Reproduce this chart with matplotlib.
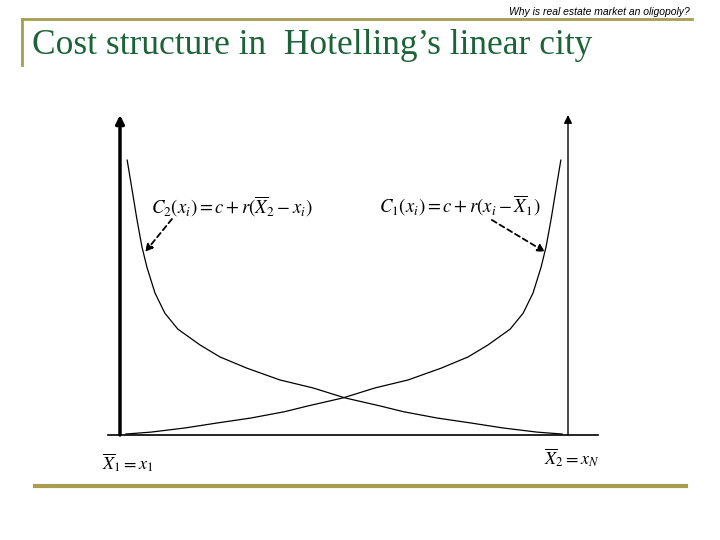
import matplotlib
matplotlib.use('Agg')
import matplotlib.pyplot as plt
from matplotlib.lines import Line2D

plt.rcParams['mathtext.fontset'] = 'stix'

# curve C2 (falls from the left axis), x as share of the city, y as cost height
c2_x = [0.016, 0.027, 0.038, 0.049, 0.060, 0.078, 0.100, 0.129, 0.179,
        0.223, 0.283, 0.357, 0.431, 0.502, 0.580, 0.632, 0.708, 0.781,
        0.855, 0.931, 0.987]
c2_y = [0.859, 0.766, 0.672, 0.588, 0.525, 0.444, 0.381, 0.331, 0.281,
        0.244, 0.209, 0.172, 0.147, 0.116, 0.091, 0.073, 0.053, 0.038,
        0.022, 0.009, 0.003]
# curve C1 (rises to the right axis), mirror image of C2
c1_x = [1 - v for v in c2_x]
c1_y = list(c2_y)

title = 'Cost structure in  Hotelling\u2019s linear city'
subtitle = 'Why is real estate market an oligopoly?'
label_c2 = r'$C_2(x_i) = c + r(\overline{X}_2 - x_i)$'
label_c1 = r'$C_1(x_i) = c + r(x_i - \overline{X}_1)$'
label_left = r'$\overline{X}_1 = x_1$'
label_right = r'$\overline{X}_2 = x_N$'

gold = '#a89d52'
green = '#1d6339'

W, H = 720, 540
fig = plt.figure(figsize=(7.2, 5.4), dpi=100)

# slide decoration
def px(x, y):
    return x / W, 1 - y / H

for (x0, y0), (x1, y1), lw in [((22, 19), (692, 19), 2),
                               ((22, 19), (22, 65), 2),
                               ((35, 486), (686, 486), 3)]:
    a, b = px(x0, y0)
    c, d = px(x1, y1)
    fig.add_artist(Line2D([a, c], [b, d], color=gold, lw=lw,
                          transform=fig.transFigure))

fig.text(0.958, 0.978, subtitle, ha='right', va='center', fontsize=7.5,
         style='italic', family='Liberation Sans')
fig.text(32 / W, 1 - 46 / H, title, ha='left', va='center', fontsize=25.5,
         color=green, family='Liberation Serif')

# diagram
ax = fig.add_axes([120 / W, 105 / H, 448 / W, 320 / H])
ax.set_xlim(0, 1)
ax.set_ylim(0, 1)
ax.axis('off')

ax.plot([-0.027, 1.067], [0, 0], color='black', lw=1.2, clip_on=False)
ax.annotate('', xy=(0, 1.0), xytext=(0, 0),
            arrowprops=dict(arrowstyle='-|>', color='black', lw=2.5,
                            mutation_scale=12, shrinkA=0, shrinkB=0))
ax.annotate('', xy=(1, 1.0), xytext=(1, 0),
            arrowprops=dict(arrowstyle='-|>', color='black', lw=1.0,
                            mutation_scale=12, shrinkA=0, shrinkB=0))

ax.plot(c2_x, c2_y, color='black', lw=0.9, clip_on=False,
        solid_joinstyle='round')
ax.plot(c1_x, c1_y, color='black', lw=0.9, clip_on=False,
        solid_joinstyle='round')

ax.annotate('', xy=(0.056, 0.572), xytext=(0.116, 0.675),
            arrowprops=dict(arrowstyle='-|>', color='black', lw=1.3,
                            linestyle=(0, (3, 2)), mutation_scale=11,
                            shrinkA=0, shrinkB=0))
ax.annotate('', xy=(0.949, 0.572), xytext=(0.830, 0.672),
            arrowprops=dict(arrowstyle='-|>', color='black', lw=1.3,
                            linestyle=(0, (3, 2)), mutation_scale=11,
                            shrinkA=0, shrinkB=0))

ax.text(0.25, 0.712, label_c2, ha='center', va='center', fontsize=13.5)
ax.text(0.759, 0.7155, label_c1, ha='center', va='center', fontsize=13.5)
ax.text(0.018, -0.0875, label_left, ha='center', va='center', fontsize=13)
ax.text(1.009, -0.072, label_right, ha='center', va='center', fontsize=13)

fig.savefig('out.png', dpi=100)
